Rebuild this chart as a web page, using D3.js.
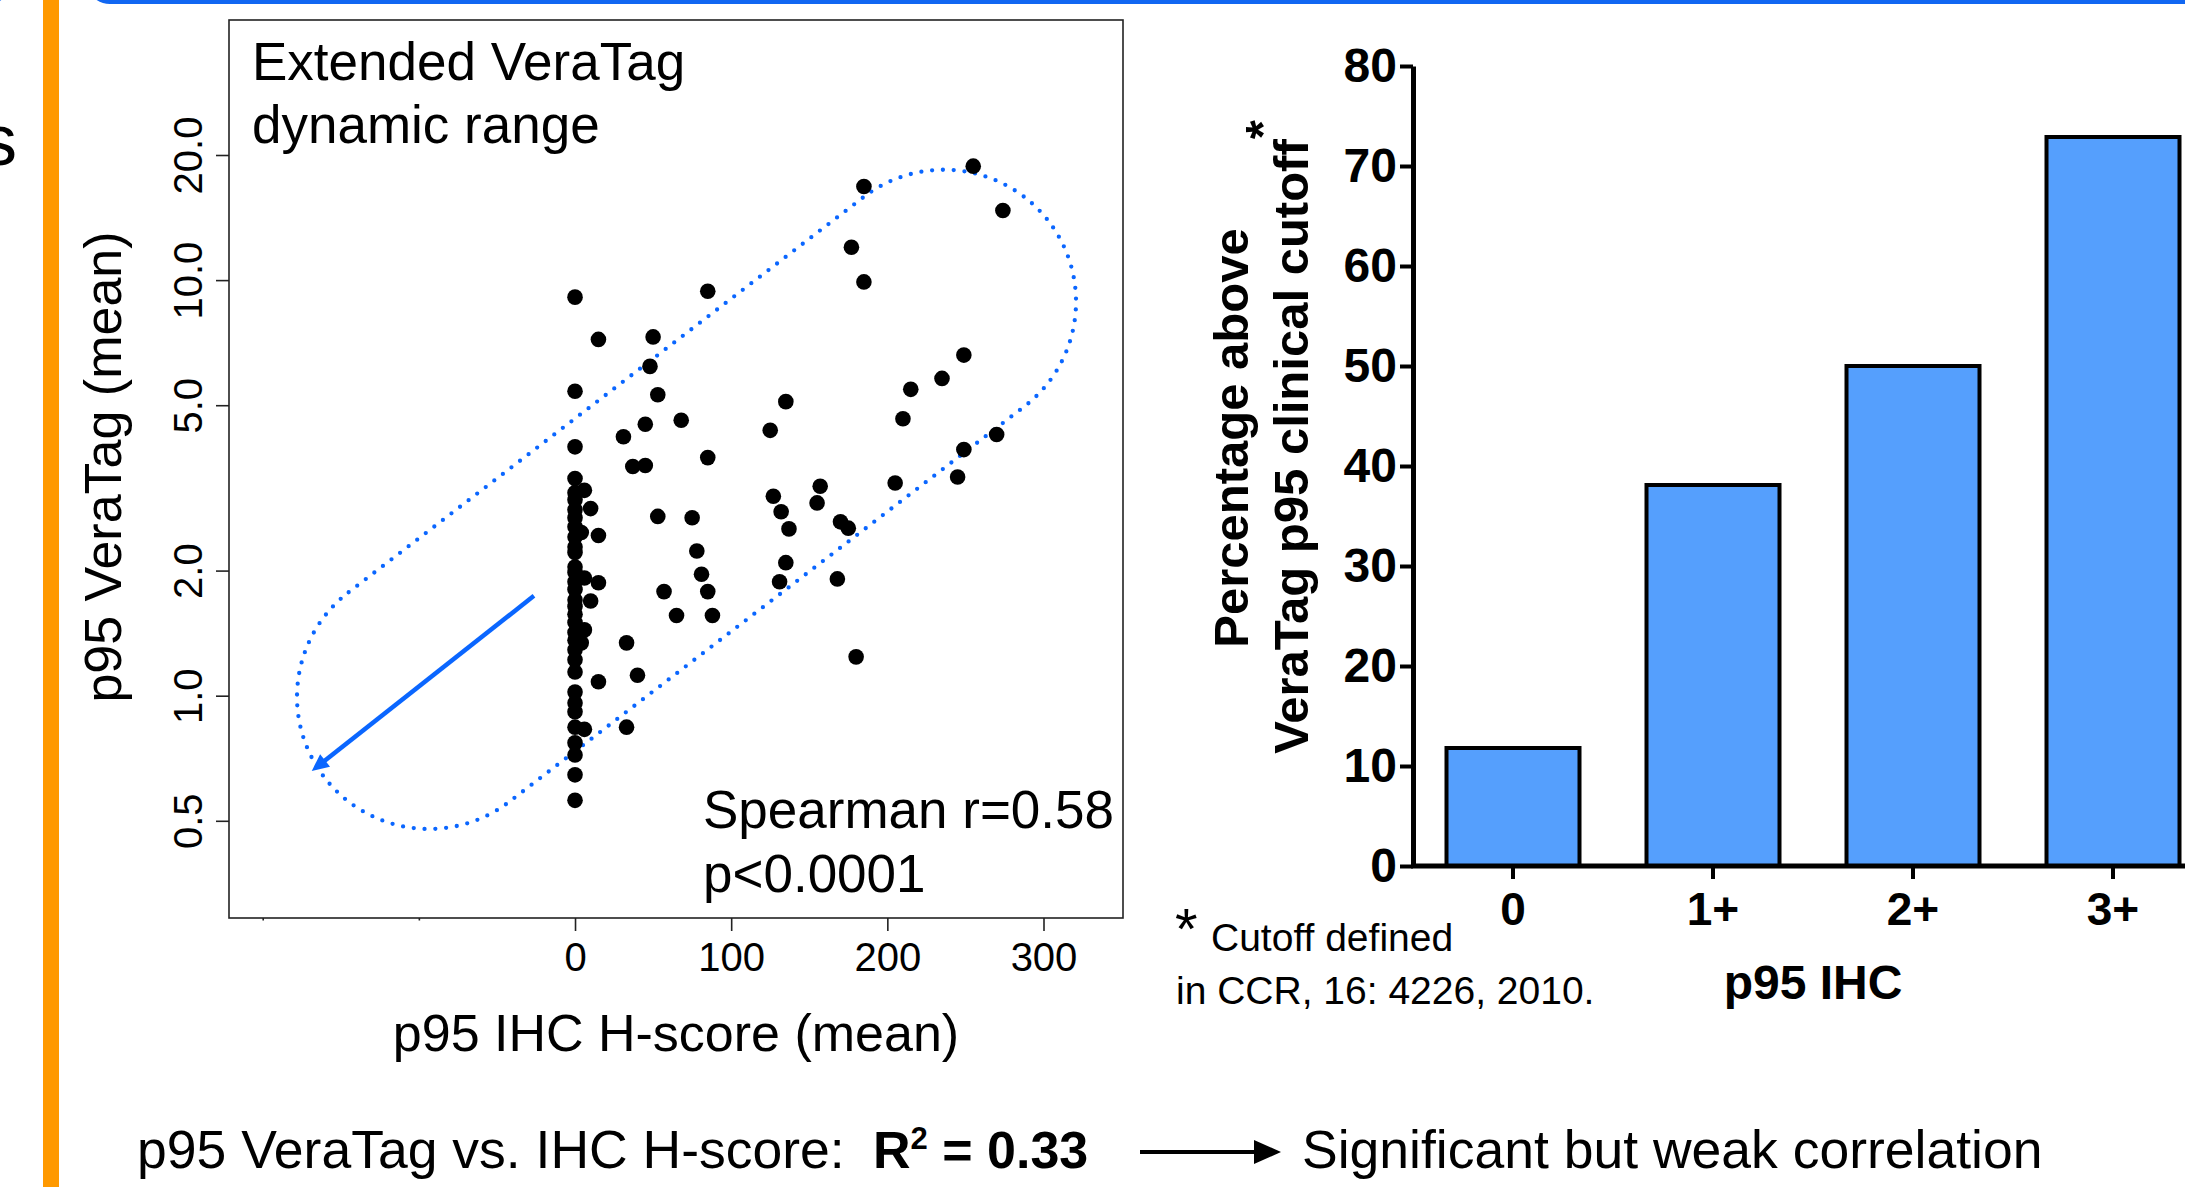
<!DOCTYPE html>
<html>
<head>
<meta charset="UTF-8">
<title>p95 VeraTag vs. IHC</title>
<style>
  html, body { margin: 0; padding: 0; background: #fff; }
  svg { display: block; font-family: "Liberation Sans", Arial, Helvetica, sans-serif; }
</style>
</head>
<body>
<svg id="chart" width="2185" height="1187"></svg>
<script src="https://cdn.jsdelivr.net/npm/d3@7"></script>
<script>
// ---- scatter data: p95 IHC H-score (mean) vs p95 VeraTag (mean)
const hScore = [
  0,0,0,0,0,0,0,0,0,0,0,0,0,0,0,0,0,0,0,0,0,0,0,0,0,0,0,0,0,0,0,0,0,
  6,10,15,4,15,6,10,6,4,15,6,
  255,185,274,177,185,85,15,50,48,53,45,68,31,37,45,85,135,125,249,235,
  215,210,270,249,245,205,157,127,155,132,137,170,175,53,75,78,81,85,57,65,
  88,135,131,168,180,33,40,33
];
const veraTag = [
  9.1,5.4,3.97,3.33,3.08,2.96,2.80,2.68,2.55,2.41,2.28,2.21,2.04,1.98,1.88,1.80,1.70,
  1.64,1.57,1.50,1.42,1.36,1.29,1.22,1.14,1.02,0.96,0.915,0.84,0.77,0.72,0.645,0.56,
  3.12,2.82,2.43,2.47,1.87,1.92,1.69,1.44,1.34,1.08,0.83,
  18.8,16.8,14.7,12.0,9.9,9.4,7.2,7.3,6.2,5.3,4.5,4.6,4.2,3.56,3.58,3.74,5.1,4.35,6.6,5.8,
  5.46,4.64,4.25,3.91,3.36,3.25,3.19,3.02,2.91,2.77,2.52,2.62,2.53,2.70,2.68,2.23,1.96,1.78,1.78,1.56,
  1.56,2.09,1.88,1.91,1.24,1.34,1.12,0.84
];
const xTicks = [-200, -100, 0, 100, 200, 300];
const xTickLabels = ["", "", "0", "100", "200", "300"];
const yTicks = [0.5, 1, 2, 5, 10, 20];
const yTickLabels = ["0.5", "1.0", "2.0", "5.0", "10.0", "20.0"];

// annotation anchors in data units (dotted loop end centres, arrow start/end)
const loopEnds = [[-93.5, 0.993], [236.3, 8.87]];
const arrowEnds = [[-26.3, 1.739], [-168.6, 0.659]];

// ---- bar data
const ihcCategories = ["0", "1+", "2+", "3+"];
const pctAbove = [11.8, 38.1, 50.0, 72.9];
const pctTicks = [0, 10, 20, 30, 40, 50, 60, 70, 80];

const blue = "#0a66ff";
const svg = d3.select("#chart");

// ---- slide decoration
svg.append("rect").attr("x", 43).attr("y", 0).attr("width", 16).attr("height", 1187).attr("fill", "#ff9900");
svg.append("rect").attr("x", 88).attr("y", -100).attr("width", 2200).attr("height", 102).attr("rx", 22)
  .attr("fill", "none").attr("stroke", "#1167f2").attr("stroke-width", 4);
svg.append("rect").attr("x", -200).attr("y", -100).attr("width", 210).attr("height", 102).attr("rx", 22)
  .attr("fill", "none").attr("stroke", "#1167f2").attr("stroke-width", 4);
svg.append("text").attr("x", 17).attr("y", 165).attr("text-anchor", "end")
  .attr("font-size", 72).text("s");

// ---- scatter
const frame = {left: 229, top: 20, right: 1123, bottom: 918};
const x = d3.scaleLinear().domain([-200, 300]).range([262.7, 1043.5]);
const y = d3.scaleLog().domain([0.5, 20]).range([820.8, 155]);

svg.append("rect").attr("x", frame.left).attr("y", frame.top)
  .attr("width", frame.right - frame.left).attr("height", frame.bottom - frame.top)
  .attr("fill", "none").attr("stroke", "#222").attr("stroke-width", 1.6);

const gx = svg.append("g").attr("transform", `translate(0,${frame.bottom})`)
  .call(d3.axisBottom(x).tickValues(xTicks).tickFormat((d, i) => xTickLabels[i]).tickSize(13));
gx.select(".domain").remove();
gx.selectAll(".tick line").attr("stroke", "#222").attr("stroke-width", 1.6)
  .attr("y2", (d, i) => xTickLabels[i] === "" ? 2.5 : 13);
gx.selectAll(".tick text").attr("font-size", 40).attr("font-family", null)
  .attr("fill", "#000").attr("y", 53).attr("dy", 0);

const gy = svg.append("g").attr("transform", `translate(${frame.left},0)`)
  .call(d3.axisLeft(y).tickValues(yTicks).tickFormat((d, i) => yTickLabels[i]).tickSize(13));
gy.select(".domain").remove();
gy.selectAll(".tick line").attr("stroke", "#222").attr("stroke-width", 1.6);
gy.selectAll(".tick text").attr("font-size", 40).attr("font-family", null).attr("fill", "#000")
  .attr("transform", "rotate(-90)").attr("x", 0).attr("y", -27).attr("dy", 0)
  .attr("text-anchor", "middle");

svg.append("text").attr("transform", "translate(121,467) rotate(-90)")
  .attr("text-anchor", "middle").attr("font-size", 52).text("p95 VeraTag (mean)");
svg.append("text").attr("x", 676).attr("y", 1051).attr("text-anchor", "middle")
  .attr("font-size", 52).text("p95 IHC H-score (mean)");

const ann = svg.append("g").attr("font-size", 53);
ann.append("text").attr("x", 252).attr("y", 80).text("Extended VeraTag");
ann.append("text").attr("x", 252).attr("y", 143).text("dynamic range");
ann.append("text").attr("x", 703).attr("y", 828).text("Spearman r=0.58");
ann.append("text").attr("x", 703).attr("y", 892).text("p<0.0001");

// dotted loop around the points
const c1 = [x(loopEnds[0][0]), y(loopEnds[0][1])];
const c2 = [x(loopEnds[1][0]), y(loopEnds[1][1])];
const r = 132;
const len = Math.hypot(c2[0] - c1[0], c2[1] - c1[1]);
const ux = (c2[0] - c1[0]) / len, uy = (c2[1] - c1[1]) / len;
const nx = uy, ny = -ux;
const loop = d3.path();
loop.moveTo(c1[0] + r * nx, c1[1] + r * ny);
loop.lineTo(c2[0] + r * nx, c2[1] + r * ny);
const a2 = Math.atan2(ny, nx);
loop.arc(c2[0], c2[1], r, a2, a2 + Math.PI, false);
loop.lineTo(c1[0] - r * nx, c1[1] - r * ny);
loop.arc(c1[0], c1[1], r, a2 + Math.PI, a2 + 2 * Math.PI, false);
loop.closePath();
svg.append("path").attr("d", loop.toString()).attr("fill", "none")
  .attr("stroke", blue).attr("stroke-width", 4.3).attr("stroke-linecap", "round")
  .attr("stroke-dasharray", "0 10.8");

// blue arrow
const p0 = [x(arrowEnds[0][0]), y(arrowEnds[0][1])];
const p1 = [x(arrowEnds[1][0]), y(arrowEnds[1][1])];
const al = Math.hypot(p1[0] - p0[0], p1[1] - p0[1]);
const dx = (p1[0] - p0[0]) / al, dy = (p1[1] - p0[1]) / al;
svg.append("line").attr("x1", p0[0]).attr("y1", p0[1])
  .attr("x2", p1[0] - dx * 10).attr("y2", p1[1] - dy * 10)
  .attr("stroke", blue).attr("stroke-width", 4.5);
const hl = 17, hw = 8;
svg.append("path").attr("fill", blue).attr("d",
  `M${p1[0]},${p1[1]}L${p1[0] - dx * hl - dy * hw},${p1[1] - dy * hl + dx * hw}` +
  `L${p1[0] - dx * hl + dy * hw},${p1[1] - dy * hl - dx * hw}Z`);

// points
svg.append("g").selectAll("circle")
  .data(hScore.map((h, i) => ({h, v: veraTag[i]})))
  .join("circle")
  .attr("cx", d => x(d.h)).attr("cy", d => y(d.v)).attr("r", 7.8).attr("fill", "#000");

// ---- bar chart
const yb = d3.scaleLinear().domain([0, 80]).range([866, 66]);
const xb = d3.scaleBand().domain(ihcCategories).range([1413, 2213])
  .paddingInner(0.335).paddingOuter(0.1675);

svg.append("g").selectAll("rect")
  .data(pctAbove)
  .join("rect")
  .attr("x", (d, i) => xb(ihcCategories[i])).attr("width", xb.bandwidth())
  .attr("y", d => yb(d)).attr("height", d => yb(0) - yb(d))
  .attr("fill", "#559ffd").attr("stroke", "#000").attr("stroke-width", 4);

const gyb = svg.append("g").attr("transform", "translate(1413,0)")
  .call(d3.axisLeft(yb).tickValues(pctTicks).tickSize(13).tickSizeOuter(0));
gyb.select(".domain").attr("stroke-width", 5);
gyb.selectAll(".tick line").attr("stroke-width", 4);
gyb.selectAll(".tick text").attr("font-size", 48).attr("font-weight", "bold")
  .attr("font-family", null).attr("fill", "#000");

const gxb = svg.append("g").attr("transform", "translate(0,866)")
  .call(d3.axisBottom(xb).tickSize(13).tickSizeOuter(0));
gxb.select(".domain").attr("stroke-width", 5).attr("d", "M1411,0H2185");
gxb.selectAll(".tick line").attr("stroke-width", 4);
gxb.selectAll(".tick text").attr("font-size", 46).attr("font-weight", "bold")
  .attr("font-family", null).attr("fill", "#000").attr("y", 59).attr("dy", 0);

svg.append("text").attr("x", 1813).attr("y", 999).attr("text-anchor", "middle")
  .attr("font-size", 48).attr("font-weight", "bold").text("p95 IHC");

const yt = svg.append("g").attr("font-size", 49).attr("font-weight", "bold");
yt.append("text").attr("transform", "translate(1248,438) rotate(-90)")
  .attr("text-anchor", "middle").text("Percentage above");
const yt2 = yt.append("text").attr("transform", "translate(1308,437) rotate(-90)")
  .attr("text-anchor", "middle");
yt2.append("tspan").text("VeraTag p95 clinical cutoff");
yt2.append("tspan").attr("dy", -29).text("*");

const fn = svg.append("g").attr("font-size", 39);
fn.append("text").attr("x", 1175).attr("y", 949).attr("font-size", 58).text("*");
fn.append("text").attr("x", 1211).attr("y", 951).text("Cutoff defined");
fn.append("text").attr("x", 1176).attr("y", 1004).text("in CCR, 16: 4226, 2010.");

// ---- bottom line
const bl = svg.append("g").attr("font-size", 53.5);
bl.append("text").attr("x", 137).attr("y", 1168).text("p95 VeraTag vs. IHC H-score:");
const r2 = bl.append("text").attr("x", 873).attr("y", 1168).attr("font-weight", "bold")
  .attr("font-size", 52);
r2.append("tspan").text("R");
r2.append("tspan").attr("font-size", 31).attr("dy", -19).text("2");
r2.append("tspan").attr("dy", 19).text(" = 0.33");
bl.append("line").attr("x1", 1140).attr("x2", 1258).attr("y1", 1152).attr("y2", 1152)
  .attr("stroke", "#000").attr("stroke-width", 4);
bl.append("path").attr("d", "M1281,1152L1254,1140L1254,1164Z").attr("fill", "#000");
bl.append("text").attr("x", 1302).attr("y", 1168).text("Significant but weak correlation");
</script>
</body>
</html>
